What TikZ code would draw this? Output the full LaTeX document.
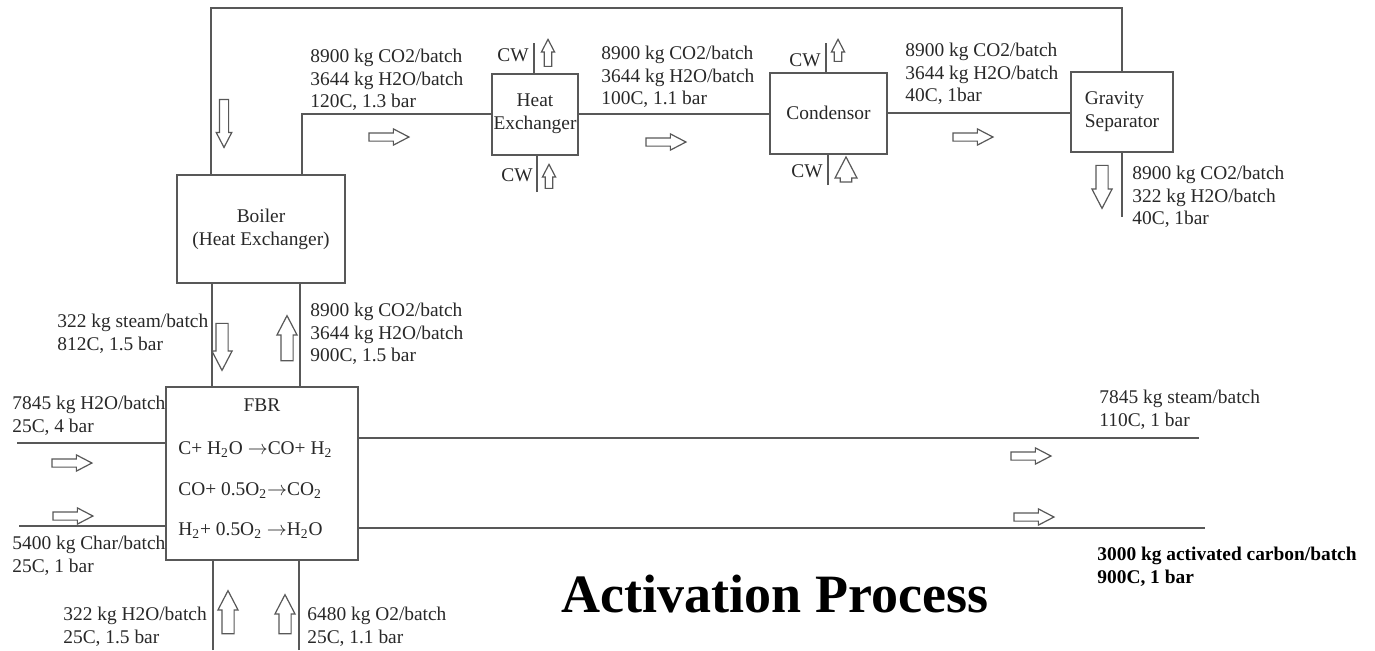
\documentclass[tikz,border=0pt]{standalone}
\usepackage{fontspec}
\setmainfont{Liberation Serif}
\usetikzlibrary{shapes.arrows,positioning}
\definecolor{linec}{RGB}{88,88,88}
\definecolor{txtc}{RGB}{40,40,40}
\newcommand{\flowfont}{\fontsize{9.7}{11.4}\selectfont}
\tikzset{
  unit/.style={rectangle,draw=linec,line width=1pt,fill=white,align=center,
               font=\flowfont,text=txtc,inner sep=1pt},
  stream/.style={anchor=north west,align=left,inner sep=0pt,font=\flowfont,text=txtc},
  cwlab/.style={anchor=base east,inner sep=0pt,font=\flowfont,text=txtc},
  pipe/.style={draw=linec,line width=1pt},
  blk/.style={single arrow,draw=linec,fill=white,line width=0.6pt,inner xsep=0pt,
              single arrow tip angle=55},
  harr/.style={blk,minimum height=20pt,inner ysep=1.75pt,single arrow head extend=2pt},
  varr/.style={blk,minimum height=#1,inner ysep=2.75pt,single arrow head extend=2pt},
  cwarr/.style={blk,minimum height=#1,inner ysep=1.6pt,single arrow head extend=1.4pt},
}
\begin{document}
\begin{tikzpicture}[x=0.5pt,y=-0.5pt]
  \useasboundingbox (0,0) rectangle (1375,650);
  % --- units ---
  \node[unit,minimum width=84pt,minimum height=54pt] (boiler) at (261,229) {Boiler\\(Heat Exchanger)};
  \node[unit,minimum width=43pt,minimum height=40.5pt] (hx) at (535,114) {Heat\\Exchanger};
  \node[unit,minimum width=58.5pt,minimum height=40.5pt] (cond) at (828.5,113) {Condensor};
  \node[unit,minimum width=51pt,minimum height=40pt,align=left] (sep) at (1122,111.5) {Gravity\\Separator};
  \node[unit,minimum width=96pt,minimum height=86.5pt] (fbr) at (262,473.5) {};
  \node[anchor=north,inner sep=0pt,font=\flowfont,text=txtc] (fbrname) at (262,398) {FBR};
  \node[stream] (rxn) at (178,441) {C+ H\textsubscript{2}O $\rightarrow$CO+ H\textsubscript{2}\\[9pt]
    CO+ 0.5O\textsubscript{2}$\rightarrow$CO\textsubscript{2}\\[9pt]
    H\textsubscript{2}+ 0.5O\textsubscript{2} $\rightarrow$H\textsubscript{2}O};
  % --- free ends ---
  \coordinate (loop) at (211,8);
  \coordinate (hxcwout) at (534,43);
  \coordinate (hxcwin) at (537,192);
  \coordinate (cdcwout) at (826,43);
  \coordinate (cdcwin) at (828,185);
  \coordinate (sepout) at (1122,217);
  \coordinate (waterin) at (17,443);
  \coordinate (charin) at (19,526);
  \coordinate (steamout) at (1199,438);
  \coordinate (carbonout) at (1205,528);
  \coordinate (h2oin) at (213,650);
  \coordinate (o2in) at (299,650);
  % --- pipes ---
  \draw[pipe] (sep.north) |- (loop) -- (loop |- boiler.north);
  \draw[pipe] (boiler.north -| 302,0) |- (hx.west);
  \draw[pipe] (hx.east) -- (hx.east -| cond.west);
  \draw[pipe] (cond.east) -- (cond.east -| sep.west);
  \draw[pipe] (sep.south) -- (sepout);
  \draw[pipe] (hxcwout) -- (hxcwout |- hx.north);
  \draw[pipe] (hxcwin) -- (hxcwin |- hx.south);
  \draw[pipe] (cdcwout) -- (cdcwout |- cond.north);
  \draw[pipe] (cdcwin) -- (cdcwin |- cond.south);
  \draw[pipe] (boiler.south -| 212,0) -- (fbr.north -| 212,0);
  \draw[pipe] (fbr.north -| 300,0) -- (boiler.south -| 300,0);
  \draw[pipe] (waterin) -- (waterin -| fbr.west);
  \draw[pipe] (charin) -- (charin -| fbr.west);
  \draw[pipe] (fbr.east |- steamout) -- (steamout);
  \draw[pipe] (fbr.east |- carbonout) -- (carbonout);
  \draw[pipe] (h2oin) -- (h2oin |- fbr.south);
  \draw[pipe] (o2in) -- (o2in |- fbr.south);
  % --- flow arrows ---
  \node[harr] (f1) at (385,137) {};
  \node[harr] (f2) at (662,142) {};
  \node[harr] (f3) at (969,137) {};
  \node[harr] (f4) at (68,463) {};
  \node[harr] (f5) at (69,516) {};
  \node[harr] (f6) at (1027,456) {};
  \node[harr] (f7) at (1030,517) {};
  \node[varr=24pt,rotate=-90,inner ysep=2pt,single arrow head extend=1.6pt] (f8) at (224,119) {};
  \node[varr=23.5pt,rotate=-90] (f9) at (222,341) {};
  \node[varr=21.5pt,rotate=-90] (f10) at (1102,181) {};
  \node[varr=22.5pt,rotate=90] (f11) at (287,344) {};
  \node[varr=21.5pt,rotate=90] (f12) at (228,618) {};
  \node[varr=19.5pt,rotate=90] (f13) at (285,620) {};
  \node[cwarr=13.5pt,rotate=90] (c1) at (548,56.5) {};
  \node[cwarr=12pt,rotate=90] (c2) at (549,180) {};
  \node[cwarr=11pt,rotate=90] (c3) at (838,54) {};
  \node[cwarr=12.5pt,rotate=90,inner ysep=2.6pt,single arrow head extend=2.6pt] (c4) at (846,175) {};
  % --- cooling water ---
  \node[cwlab] (cw1) at (529,61) {CW};
  \node[cwlab] (cw2) at (533,181) {CW};
  \node[cwlab] (cw3) at (821,66) {CW};
  \node[cwlab] (cw4) at (823,177) {CW};
  % --- stream data ---
  \node[stream] (s1) at (310,48.5) {8900 kg CO2/batch\\3644 kg H2O/batch\\120C, 1.3 bar};
  \node[stream] (s2) at (601,45.5) {8900 kg CO2/batch\\3644 kg H2O/batch\\100C, 1.1 bar};
  \node[stream] (s3) at (905,42.5) {8900 kg CO2/batch\\3644 kg H2O/batch\\40C, 1bar};
  \node[stream] (s4) at (1132,165.5) {8900 kg CO2/batch\\322 kg H2O/batch\\40C, 1bar};
  \node[stream] (s5) at (57,313.5) {322 kg steam/batch\\812C, 1.5 bar};
  \node[stream] (s6) at (310,302.5) {8900 kg CO2/batch\\3644 kg H2O/batch\\900C, 1.5 bar};
  \node[stream] (s7) at (12,395.5) {7845 kg H2O/batch\\25C, 4 bar};
  \node[stream] (s8) at (12,535.5) {5400 kg Char/batch\\25C, 1 bar};
  \node[stream] (s9) at (63,606.5) {322 kg H2O/batch\\25C, 1.5 bar};
  \node[stream] (s10) at (307,606.5) {6480 kg O2/batch\\25C, 1.1 bar};
  \node[stream] (s11) at (1099,389.5) {7845 kg steam/batch\\110C, 1 bar};
  \node[stream,font=\flowfont\bfseries,text=black] (s12) at (1097,546.5) {3000 kg activated carbon/batch\\900C, 1 bar};
  % --- title ---
  \node[font=\fontsize{27}{30}\selectfont\bfseries,text=black,inner sep=0pt] (title) at (775,594) {Activation Process};
\end{tikzpicture}
\end{document}
